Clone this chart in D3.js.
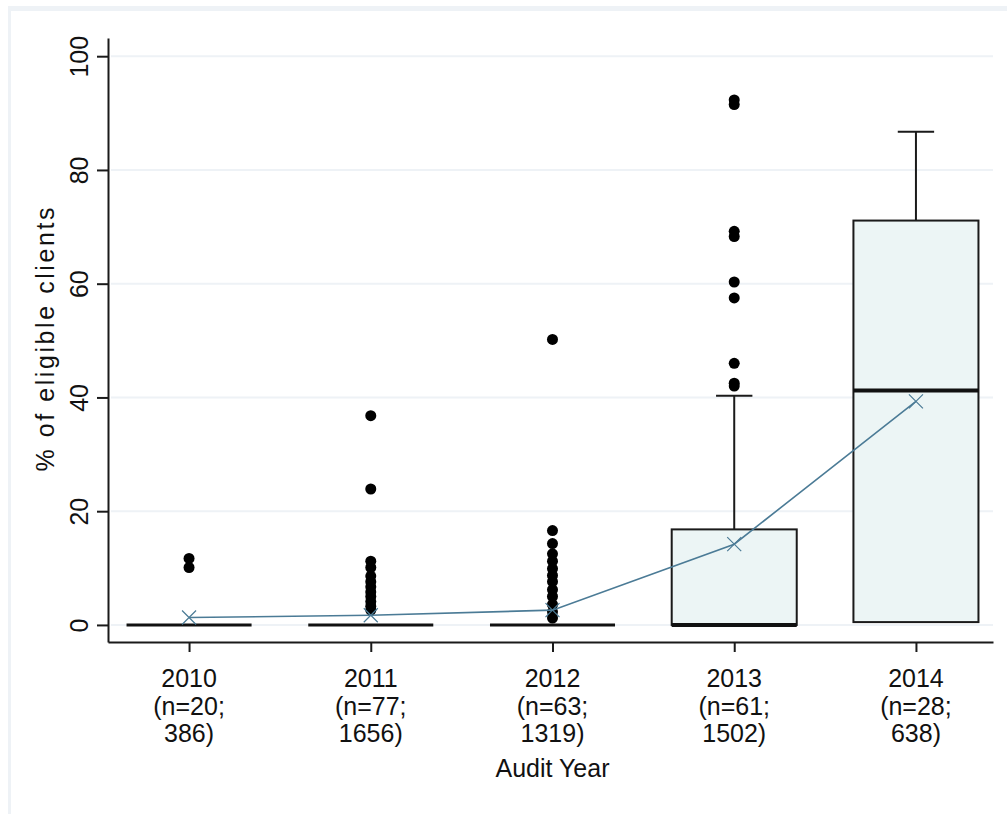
<!DOCTYPE html>
<html lang="en">
<head>
  <meta charset="UTF-8">
  <title>% of eligible clients by audit year</title>
  <script src="https://d3js.org/d3.v7.min.js"></script>
  <style>
    body { margin: 0; background: #fff; }
    svg { display: block; }
    text { font-family: "Liberation Sans", Arial, sans-serif; fill: #111; }
  </style>
</head>
<body>
  <svg id="chart" width="1007" height="814"></svg>

  <script>
    // data
    const years = ["2010", "2011", "2012", "2013", "2014"];
    const nClinics = [20, 77, 63, 61, 28];
    const nClients = [386, 1656, 1319, 1502, 638];
    const q1 = [0, 0, 0, 0, 0.5];
    const median = [0, 0, 0, 0, 41.2];
    const q3 = [0, 0, 0, 16.8, 71.1];
    const upperWhisker = [0, 0, 0, 40.3, 86.7];
    const means = [1.3, 1.7, 2.6, 14.2, 39.3];
    const outliers = [
      [11.7, 10.1],
      [36.8, 23.9, 11.2, 10.1, 8.6, 7.6, 6.7, 5.8, 5.0, 4.1, 3.3, 2.6],
      [50.2, 16.6, 14.3, 12.5, 11.2, 9.9, 8.7, 7.6, 6.2, 5.0, 3.6, 2.3, 1.2],
      [92.3, 91.5, 69.2, 68.3, 60.3, 57.5, 46.0, 42.5, 42.0],
      []
    ];
    const yTicks = [0, 20, 40, 60, 80, 100];

    const svg = d3.select("#chart");

    // light outer frame of the graph region
    svg.append("rect").attr("x", 8).attr("y", 6).attr("width", 999).attr("height", 5).attr("fill", "#eef2f6");
    svg.append("rect").attr("x", 8).attr("y", 6).attr("width", 3).attr("height", 808).attr("fill", "#eef2f6");

    const x = d3.scaleLinear().domain([-0.446, 4.424]).range([108, 993]);
    const y = d3.scaleLinear().domain([-3, 103.2]).range([642, 38]);
    const half = 0.344;   // half box width, in category units
    const capHalf = 0.1;

    // grid
    svg.append("g").selectAll("line")
      .data(yTicks)
      .enter().append("line")
      .attr("x1", x(-0.43)).attr("x2", x(4.424))
      .attr("y1", d => y(d)).attr("y2", d => y(d))
      .attr("stroke", "#eef2f6").attr("stroke-width", 2);

    // axes
    const yAxis = svg.append("g")
      .attr("transform", `translate(${x(-0.446)},0)`)
      .call(d3.axisLeft(y).tickValues(yTicks).tickSize(11).tickSizeOuter(0).tickPadding(10));
    yAxis.selectAll("text")
      .attr("transform", "rotate(-90)")
      .attr("x", 0).attr("y", 0)
      .attr("dy", "-20px")
      .attr("text-anchor", "middle")
      .style("font-size", "25px");

    const xAxis = svg.append("g")
      .attr("transform", `translate(0,${y(-3)})`)
      .call(d3.axisBottom(x).tickValues(d3.range(years.length)).tickSize(10).tickSizeOuter(0).tickFormat(""));

    [yAxis, xAxis].forEach(a => {
      a.selectAll("path, line").attr("stroke", "#1a1a1a").attr("stroke-width", 2);
    });

    const labels = svg.append("g").selectAll("text")
      .data(years)
      .enter().append("text")
      .attr("text-anchor", "middle")
      .style("font-size", "25px");
    labels.each(function (d, i) {
      const t = d3.select(this);
      const lines = [d, `(n=${nClinics[i]};`, `${nClients[i]})`];
      lines.forEach((s, k) => {
        t.append("tspan").attr("x", x(i)).attr("y", 687 + k * 27.5).text(s);
      });
    });

    svg.append("text")
      .attr("x", x(2)).attr("y", 777)
      .attr("text-anchor", "middle")
      .style("font-size", "25px")
      .text("Audit Year");

    svg.append("text")
      .attr("transform", `translate(54,${(y(0) + y(100)) / 2 - 1}) rotate(-90)`)
      .attr("text-anchor", "middle")
      .attr("textLength", 264)
      .attr("lengthAdjust", "spacing")
      .style("font-size", "25px")
      .text("% of eligible clients");

    // boxes
    const idx = d3.range(years.length);
    const boxes = svg.append("g");

    boxes.selectAll(".whisker")
      .data(idx.filter(i => upperWhisker[i] > q3[i]))
      .enter().append("line")
      .attr("x1", i => x(i)).attr("x2", i => x(i))
      .attr("y1", i => y(q3[i])).attr("y2", i => y(upperWhisker[i]))
      .attr("stroke", "#1a1a1a").attr("stroke-width", 2);

    boxes.selectAll(".cap")
      .data(idx.filter(i => upperWhisker[i] > q3[i]))
      .enter().append("line")
      .attr("x1", i => x(i - capHalf)).attr("x2", i => x(i + capHalf))
      .attr("y1", i => y(upperWhisker[i])).attr("y2", i => y(upperWhisker[i]))
      .attr("stroke", "#1a1a1a").attr("stroke-width", 2);

    boxes.selectAll(".box")
      .data(idx.filter(i => q3[i] > q1[i]))
      .enter().append("rect")
      .attr("x", i => x(i - half))
      .attr("width", i => x(i + half) - x(i - half))
      .attr("y", i => y(q3[i]))
      .attr("height", i => y(q1[i]) - y(q3[i]))
      .attr("fill", "#ecf5f5")
      .attr("stroke", "#1a1a1a").attr("stroke-width", 2);

    boxes.selectAll(".median")
      .data(idx)
      .enter().append("line")
      .attr("x1", i => x(i - half)).attr("x2", i => x(i + half))
      .attr("y1", i => y(median[i])).attr("y2", i => y(median[i]))
      .attr("stroke", "#111").attr("stroke-width", i => q3[i] > q1[i] ? 4 : 3);

    // outside values
    const pts = [];
    outliers.forEach((arr, i) => arr.forEach(v => pts.push({ i, v })));
    svg.append("g").selectAll("circle")
      .data(pts)
      .enter().append("circle")
      .attr("cx", d => x(d.i))
      .attr("cy", d => y(d.v))
      .attr("r", 5.5)
      .attr("fill", "#000");

    // mean line with x markers
    const meanColor = "#4b7b96";
    svg.append("path")
      .datum(idx)
      .attr("fill", "none")
      .attr("stroke", meanColor)
      .attr("stroke-width", 1.6)
      .attr("d", d3.line().x(i => x(i)).y(i => y(means[i])));

    const m = 7;
    svg.append("g").selectAll("path")
      .data(idx)
      .enter().append("path")
      .attr("fill", "none")
      .attr("stroke", meanColor)
      .attr("stroke-width", 1.2)
      .attr("d", i => {
        const cx = x(i), cy = y(means[i]);
        return `M${cx - m},${cy - m}L${cx + m},${cy + m}M${cx - m},${cy + m}L${cx + m},${cy - m}`;
      });
  </script>
</body>
</html>
